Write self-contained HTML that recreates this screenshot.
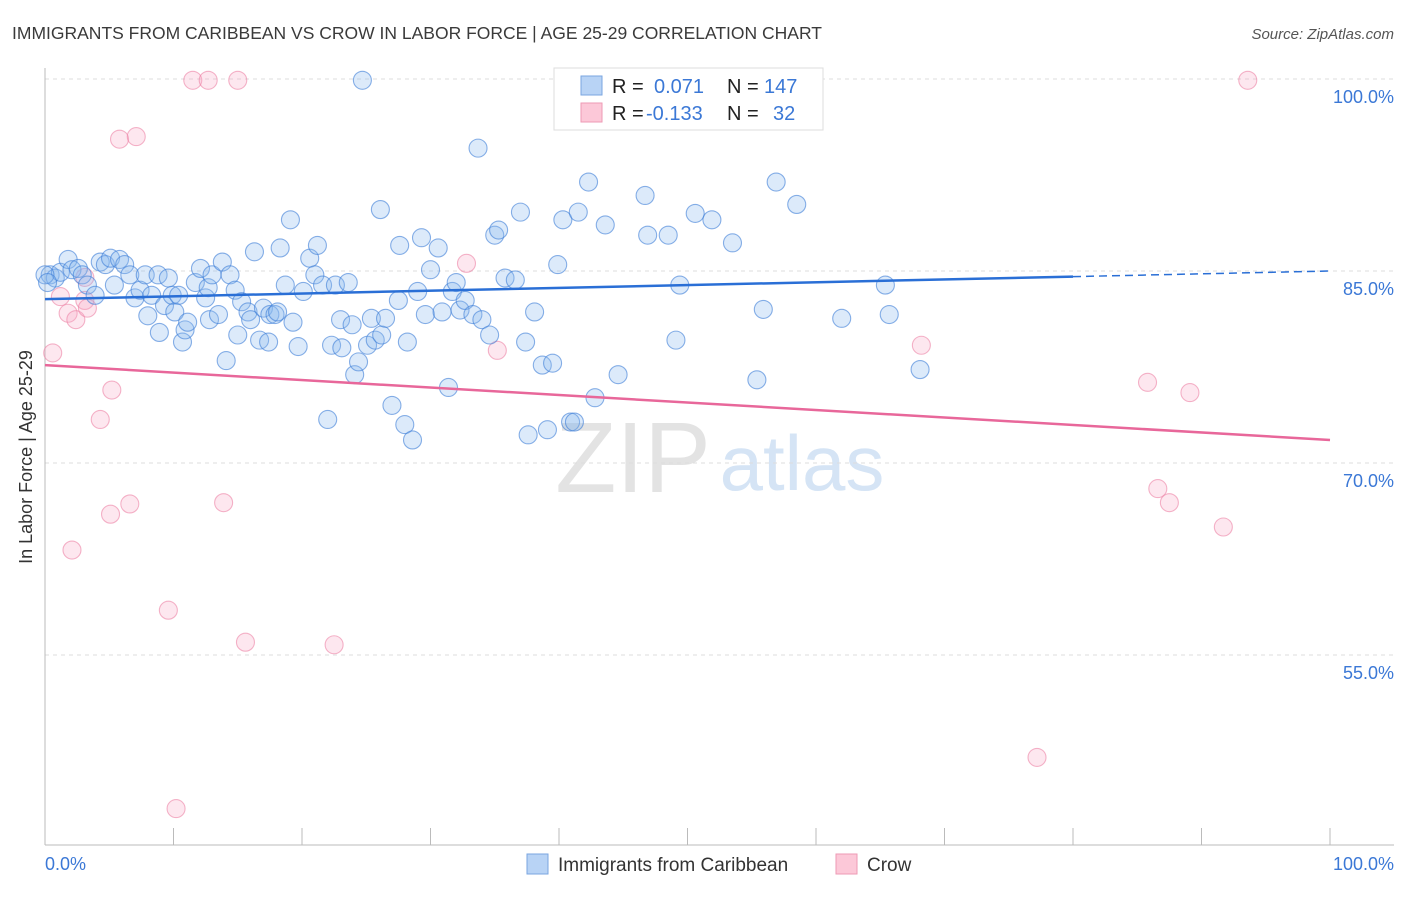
<!DOCTYPE html>
<html><head><meta charset="utf-8"><style>
body{margin:0;background:#fff;font-family:"Liberation Sans",sans-serif;}
svg text{font-family:"Liberation Sans",sans-serif;}
</style></head><body>
<svg width="1406" height="892" viewBox="0 0 1406 892">
<text x="12" y="39" font-size="17.5" fill="#3a3a3a">IMMIGRANTS FROM CARIBBEAN VS CROW IN LABOR FORCE | AGE 25-29 CORRELATION CHART</text>
<text x="1394" y="39" font-size="15" fill="#555" font-style="italic" text-anchor="end">Source: ZipAtlas.com</text>
<g>
<text x="633" y="492" font-size="100" fill="#e3e3e3" font-family="Liberation Serif" text-anchor="middle">ZIP</text>
<text x="802" y="490" font-size="78" fill="#d5e4f5" text-anchor="middle">atlas</text>
</g>
<g id="grid"></g>
<g id="axes"></g>
<g id="pts"></g>
<g id="trends"></g>
<text x="32" y="457" font-size="18" fill="#333" text-anchor="middle" transform="rotate(-90 32 457)">In Labor Force | Age 25-29</text>
<text x="45" y="870" font-size="18" fill="#3b78d6">0.0%</text>
<text x="1394" y="870" font-size="18" fill="#3b78d6" text-anchor="end">100.0%</text>
<g>
<rect x="554" y="68" width="269" height="62" fill="#fff" stroke="#ddd"/>
<rect x="581" y="76" width="21" height="19" fill="#b8d3f5" stroke="#7aa6e0"/>
<rect x="581" y="103" width="21" height="19" fill="#fcc8d8" stroke="#ee9ab4"/>
<text x="612" y="93" font-size="20" fill="#222">R = </text><text x="654" y="93" font-size="20" fill="#3b78d6">0.071</text>
<text x="727" y="93" font-size="20" fill="#222">N = </text><text x="764" y="93" font-size="20" fill="#3b78d6">147</text>
<text x="612" y="120" font-size="20" fill="#222">R = </text><text x="646" y="120" font-size="20" fill="#3b78d6">-0.133</text>
<text x="727" y="120" font-size="20" fill="#222">N = </text><text x="773" y="120" font-size="20" fill="#3b78d6">32</text>
</g>
<g>
<rect x="527" y="854" width="21" height="20" fill="#b8d3f5" stroke="#7aa6e0"/>
<text x="558" y="871" font-size="19" fill="#333">Immigrants from Caribbean</text>
<rect x="836" y="854" width="21" height="20" fill="#fcc8d8" stroke="#ee9ab4"/>
<text x="867" y="871" font-size="19" fill="#333">Crow</text>
</g>
</svg>
<script>
const yTicks=[100,85,70,55];
const yTickLabels=["100.0%","85.0%","70.0%","55.0%"];
const xTicks=[10,20,30,40,50,60,70,80,90,100];
const blueX=[0.4,0.8,1.2,1.8,2.1,2.6,2.9,3.3,3.9,4.3,4.7,5.1,5.4,5.8,6.2,6.6,7.0,7.4,7.8,8.0,8.3,8.8,8.9,9.3,9.6,9.9,10.1,10.4,10.7,10.9,11.1,11.7,12.1,12.5,12.7,12.8,13.0,13.5,13.8,14.1,14.4,14.8,15.0,15.3,15.8,16.0,16.3,16.7,17.0,17.4,17.5,17.9,18.1,18.3,18.7,19.1,19.3,19.7,20.1,20.6,21.0,21.2,21.6,22.0,22.3,22.6,23.0,23.1,23.6,23.9,24.1,24.4,24.7,25.1,25.4,25.7,26.1,26.2,26.5,27.0,27.5,27.6,28.0,28.2,28.6,29.0,29.3,29.6,30.0,30.6,30.9,31.4,31.7,32.0,32.3,32.7,33.3,33.7,34.0,34.6,35.0,35.3,35.8,36.6,37.0,37.4,37.6,38.1,38.7,39.1,39.5,39.9,40.3,40.9,41.2,41.5,42.3,42.8,43.6,44.6,46.3,46.7,46.9,48.5,49.1,49.4,50.6,51.9,53.5,54.6,55.4,55.9,56.9,58.5,62.0,65.4,65.7,68.1,0,0.2];
const blueY=[84.7,84.45,84.9,85.9,85.1,85.2,84.7,83.9,83.1,85.7,85.5,86.0,83.9,85.9,85.5,84.7,82.9,83.5,84.7,81.5,83.1,84.7,80.2,82.3,84.45,83.1,81.8,83.1,79.45,80.4,81.0,84.1,85.2,82.9,83.7,81.2,84.7,81.6,85.7,78.0,84.7,83.5,80.0,82.6,81.8,81.2,86.5,79.6,82.1,79.45,81.6,81.6,81.8,86.8,83.9,89.0,81.0,79.1,83.4,86.0,84.7,87.0,83.9,73.4,79.2,83.9,81.2,79.0,84.1,80.8,76.9,77.9,99.9,79.2,81.3,79.6,89.8,80.0,81.3,74.5,82.7,87.0,73.0,79.45,71.8,83.4,87.6,81.6,85.1,86.8,81.8,75.9,83.4,84.1,81.95,82.7,81.6,94.6,81.2,80.0,87.8,88.2,84.45,84.3,89.6,79.45,72.2,81.8,77.65,72.6,77.8,85.5,89.0,73.2,73.2,89.6,91.95,75.1,88.6,76.9,99.9,90.9,87.8,87.8,79.6,83.9,89.5,89.0,87.2,99.9,76.5,82.0,91.95,90.2,81.3,83.9,81.6,77.3,84.7,84.1];
const pinkX=[0.6,1.2,1.8,2.1,2.4,3.1,3.3,4.3,5.1,5.2,5.8,6.6,7.1,9.6,10.2,11.5,12.7,13.9,15.0,15.6,22.5,32.8,35.2,68.2,77.2,85.8,86.6,87.5,89.1,91.7,93.6,3.1];
const pinkY=[78.6,83.0,81.7,63.2,81.2,82.7,82.1,73.4,66.0,75.7,95.3,66.8,95.5,58.5,43.0,99.9,99.9,66.9,99.9,56.0,55.8,85.6,78.8,79.2,47.0,76.3,68.0,66.9,75.5,65.0,99.9,84.5];
const blueTrend=[82.8,85.0];
const pinkTrend=[77.65,71.8];
const blueSolidEnd=80;

const NS="http://www.w3.org/2000/svg";
const sx=v=>45+v*12.85;
const sy=v=>79+(100-v)*12.8;
function mk(tag,attrs,parent){const e=document.createElementNS(NS,tag);for(const k in attrs)e.setAttribute(k,attrs[k]);document.getElementById(parent).appendChild(e);return e;}

yTicks.forEach((t,i)=>{
  const g=mk('line',{x1:45,x2:1394,y1:sy(t),y2:sy(t),stroke:'#ddd','stroke-dasharray':'4,4'},'grid');
  
  
  const l=mk('text',{x:1394,y:sy(t)+24,'font-size':18,fill:'#3b78d6','text-anchor':'end'},'grid');
  l.textContent=yTickLabels[i];
  
  
});
const ya=mk('line',{x1:45,x2:45,y1:68,y2:845,stroke:'#bbb'},'axes');


const xa=mk('line',{x1:45,x2:1394,y1:845,y2:845,stroke:'#bbb'},'axes');


xTicks.forEach(t=>{
  const k=mk('line',{x1:sx(t),x2:sx(t),y1:828,y2:845,stroke:'#bbb'},'axes');
  
  
});
pinkX.forEach((x,i)=>{
  const c=mk('circle',{cx:sx(x),cy:sy(pinkY[i]),r:9,fill:'rgba(248,170,196,0.28)',stroke:'rgba(236,130,165,0.6)','stroke-width':1.1},'pts');
  
  
});
blueX.forEach((x,i)=>{
  const c=mk('circle',{cx:sx(x),cy:sy(blueY[i]),r:9,fill:'rgba(140,185,240,0.3)',stroke:'rgba(60,125,215,0.6)','stroke-width':1.1},'pts');
  
  
});
const by=x=>blueTrend[0]+(blueTrend[1]-blueTrend[0])*x/100;
const b1=mk('line',{x1:sx(0),y1:sy(by(0)),x2:sx(blueSolidEnd),y2:sy(by(blueSolidEnd)),stroke:'#2a6fd6','stroke-width':2.5},'trends');


const b2=mk('line',{x1:sx(blueSolidEnd),y1:sy(by(blueSolidEnd)),x2:sx(100),y2:sy(by(100)),stroke:'#2a6fd6','stroke-width':1.5,'stroke-dasharray':'8,5'},'trends');


const p1=mk('line',{x1:sx(0),y1:sy(pinkTrend[0]),x2:sx(100),y2:sy(pinkTrend[1]),stroke:'#e8679a','stroke-width':2.5},'trends');


</script>
</body></html>
